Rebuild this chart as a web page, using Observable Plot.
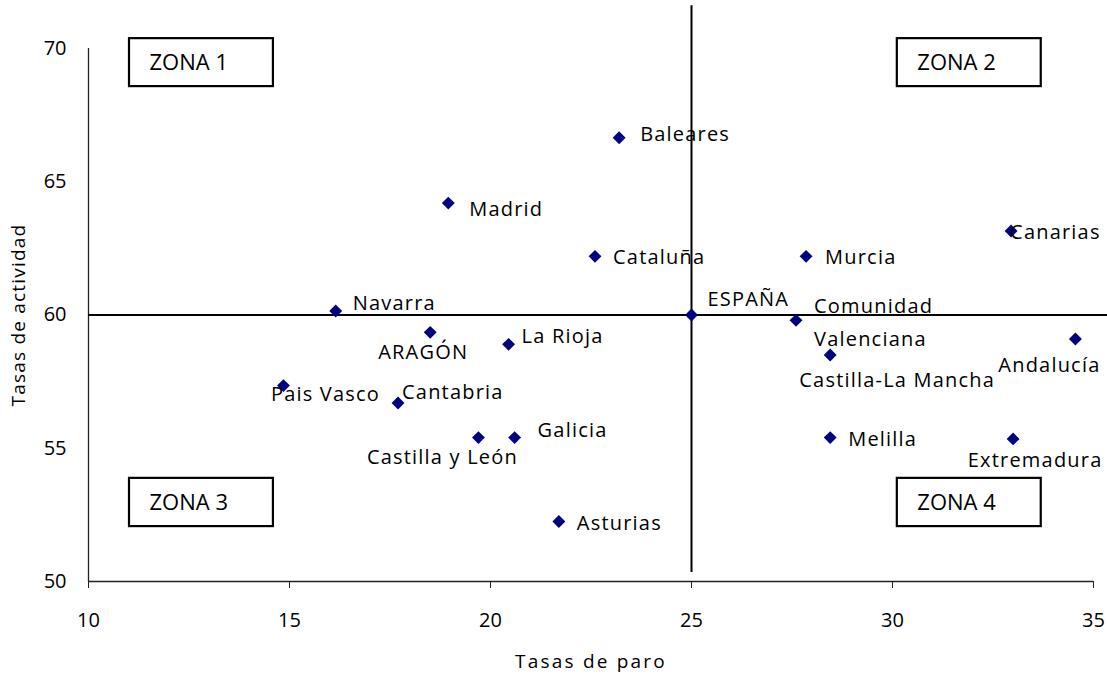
<!DOCTYPE html>
<html><head><meta charset="utf-8">
<script src="https://cdn.jsdelivr.net/npm/d3@7"></script>
<script src="https://cdn.jsdelivr.net/npm/@observablehq/plot@0.6"></script>
<style>body{margin:0;background:#fff}</style>
</head><body><div id="chart"></div>
<script>
// ---- data ----
const regions = ["Baleares","Madrid","Cataluña","Murcia","Canarias","Navarra","ESPAÑA","Comunidad\nValenciana","ARAGÓN","La Rioja","Andalucía","Castilla-La Mancha","Pais Vasco","Cantabria","Castilla y León","Galicia","Melilla","Extremadura","Asturias"];
const paro =      [23.2, 18.95, 22.6, 27.85, 32.95, 16.15, 25.0, 27.6, 18.5, 20.45, 34.55, 28.45, 14.85, 17.7, 19.7, 20.6, 28.45, 33.0, 21.7];
const actividad = [66.65, 64.2, 62.2, 62.2, 63.15, 60.15, 60.0, 59.8, 59.35, 58.9, 59.1, 58.5, 57.35, 56.7, 55.4, 55.4, 55.4, 55.35, 52.25];
const xTicks = [10, 15, 20, 25, 30, 35];
const yTicks = [50, 55, 60, 65, 70];
const zoneNames = ["ZONA 1", "ZONA 2", "ZONA 3", "ZONA 4"];
const zoneParo1 = [11.02, 30.12, 11.02, 30.12];
const zoneParo2 = [14.6, 33.7, 14.6, 33.7];
const zoneAct1 = [68.57, 68.57, 52.06, 52.06];
const zoneAct2 = [70.37, 70.37, 53.87, 53.87];
const refParo = 25, refAct = 60;
const xTitle = "Tasas de paro", yTitle = "Tasas de actividad";

// ---- label placement (pixels, style only) ----
const place = [
  {dx:21, dy:-3, a:"start"}, {dx:21, dy:7, a:"start"}, {dx:18, dy:1, a:"start"},
  {dx:19, dy:1, a:"start"}, {dx:-1, dy:2, a:"start"}, {dx:17, dy:-7, a:"start"},
  {dx:16, dy:-15, a:"start"}, {dx:18, dy:-1, a:"start", lh:1.65}, {dx:-7, dy:20, a:"middle"},
  {dx:13, dy:-8, a:"start"}, {dx:-26, dy:27, a:"middle"}, {dx:67, dy:26, a:"middle"},
  {dx:42, dy:9, a:"middle"}, {dx:4, dy:-10, a:"start"}, {dx:-36, dy:20, a:"middle"},
  {dx:23, dy:-7, a:"start"}, {dx:18, dy:2, a:"start"}, {dx:22, dy:22, a:"middle"},
  {dx:18, dy:2, a:"start"}
];

const data = regions.map((r, i) => ({region: r, paro: paro[i], act: actividad[i]}));
const zones = zoneNames.map((z, i) => ({z, x1: zoneParo1[i], x2: zoneParo2[i], y1: zoneAct1[i], y2: zoneAct2[i], ym: (zoneAct1[i] + zoneAct2[i]) / 2}));

const font = "'Open Sans', sans-serif";
const svg = Plot.plot({
  width: 1107, height: 676,
  marginLeft: 88, marginRight: 14, marginTop: 48, marginBottom: 95,
  style: {fontFamily: font, fontSize: "20px", color: "#000", background: "#fff", overflow: "visible"},
  x: {domain: [10, 35]},
  y: {domain: [50, 70]},
  marks: [
    Plot.axisX({ticks: xTicks, tickSize: 7, tickPadding: 24, fontSize: 20, label: null, stroke: "#222"}),
    Plot.axisY({ticks: yTicks, tickSize: 0, tickPadding: 22, fontSize: 20, label: null}),
    Plot.ruleX([10], {y1: 50, y2: 70, stroke: "#222", strokeWidth: 1.3}),
    Plot.ruleY([50], {x1: 10, x2: 35, stroke: "#222", strokeWidth: 1.3}),
    Plot.ruleX([refParo], {y1: 50.34, y2: 71.6, stroke: "#000", strokeWidth: 2, clip: false}),
    Plot.ruleY([refAct], {x1: 10, x2: 35.35, stroke: "#000", strokeWidth: 2, clip: false}),
    Plot.rect(zones, {x1: "x1", x2: "x2", y1: "y1", y2: "y2", fill: "white", stroke: "#000", strokeWidth: 2.2}),
    Plot.text(zones, {x: "x1", y: "ym", text: "z", dx: 20, textAnchor: "start", fontSize: 22, fill: "#000"}),
    Plot.dot(data, {x: "paro", y: "act", symbol: "diamond2", r: 5.8, fill: "#000080", stroke: "none"}),
    ...data.map((d, i) => Plot.text([d], {x: "paro", y: "act", text: "region", dx: place[i].dx, dy: place[i].dy, textAnchor: place[i].a, fontSize: 20, lineHeight: place[i].lh || 1, fill: "#000"})),
    Plot.text([xTitle], {frameAnchor: "bottom", dy: 86, text: d => d, fontSize: 19, fill: "#000"}),
    Plot.text([yTitle], {frameAnchor: "left", dx: -70, rotate: -90, textAnchor: "middle", text: d => d, fontSize: 19, fill: "#000"})
  ]
});
d3.select(svg).selectAll("text").filter(function(){ const t = this.textContent; return !/^ZONA/.test(t) && !/^\d+$/.test(t); }).style("letter-spacing", "1.2px");
d3.select(svg).selectAll("text").filter(function(){ return this.textContent === xTitle; }).style("letter-spacing", "2.2px");
document.getElementById("chart").appendChild(svg);
</script>
</body></html>
